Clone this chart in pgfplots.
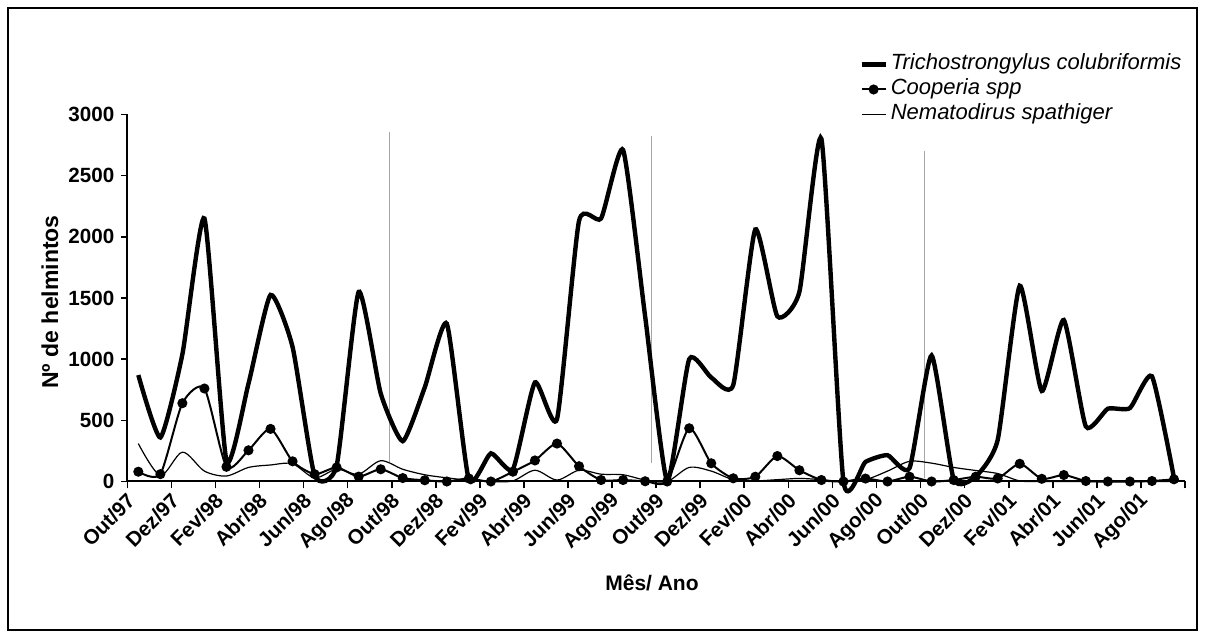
\documentclass[border=0pt]{standalone}
\usepackage{pgfplots}
\pgfplotsset{compat=1.18}
\usepackage{fontspec}
\setmainfont{Liberation Sans}
\pgfplotstableread{
i v
0 870
1 360
2 1040
3 2150
4 170
5 800
6 1525
7 1100
8 50
9 130
10 1550
11 720
12 330
13 770
14 1290
15 15
16 230
17 100
18 810
19 510
20 2130
21 2150
22 2710
23 1350
24 5
25 1000
26 850
27 790
28 2060
29 1350
30 1550
31 2800
32 0
33 160
34 215
35 110
36 1030
37 20
38 40
39 340
40 1600
41 740
42 1320
43 450
44 595
45 600
46 860
47 30
}\trich
\pgfplotstableread{
i v
0 80
1 60
2 640
3 760
4 120
5 255
6 430
7 165
8 60
9 115
10 40
11 100
12 28
13 10
14 0
15 25
16 0
17 80
18 172
19 310
20 125
21 12
22 12
23 2
24 0
25 435
26 149
27 26
28 39
29 208
30 92
31 12
32 0
33 24
34 0
35 39
36 0
37 12
38 39
39 25
40 145
41 22
42 53
43 4
44 0
45 0
46 4
47 18
}\coop
\pgfplotstableread{
i v
0 310
1 50
2 240
3 85
4 45
5 115
6 135
7 145
8 30
9 100
10 60
11 170
12 100
13 55
14 30
15 10
16 0
17 5
18 92
19 12
20 92
21 60
22 55
23 12
24 0
25 115
26 85
27 15
28 5
29 15
30 25
31 15
32 0
33 15
34 85
35 165
36 150
37 115
38 90
39 65
40 5
41 0
42 0
43 0
44 0
45 0
46 0
47 0
}\nema
\begin{document}
\begin{tikzpicture}
\path[use as bounding box] (0pt,0pt) rectangle (602.5pt,318.5pt);
\draw[line width=1pt] (4pt,3.5pt) rectangle (598.5pt,314.5pt);
\begin{axis}[
  at={(63.65pt,77.75pt)}, anchor=south west,
  scale only axis, width=528.85pt, height=183.5pt,
  xmin=-0.5, xmax=47.5, ymin=0, ymax=3000,
  axis x line=bottom, axis y line=left,
  axis line style={-, line width=1pt},
  xtick={0,2,...,46},
  xticklabels={Out/97,Dez/97,Fev/98,Abr/98,Jun/98,Ago/98,Out/98,Dez/98,Fev/99,Abr/99,Jun/99,Ago/99,Out/99,Dez/99,Fev/00,Abr/00,Jun/00,Ago/00,Out/00,Dez/00,Fev/01,Abr/01,Jun/01,Ago/01},
  major x tick style={draw=none},
  minor xtick={-0.5,1.5,...,47.5},
  minor x tick style={black, line width=0.8pt},
  minor tick length=3.5pt,
  ytick={0,500,...,3000},
  major tick length=3pt,
  tick align=outside,
  ytick style={black, line width=0.8pt},
  xticklabel style={rotate=45, anchor=east, xshift=-2.5pt, yshift=-1pt, font=\bfseries\fontsize{10.3}{11}\selectfont},
  yticklabel style={font=\bfseries\fontsize{10.3}{11}\selectfont},
  /pgf/number format/assume math mode=true,
  /pgf/number format/1000 sep={},
  clip=false,
  legend style={at={(0.6918,1.166)}, anchor=north west, draw=none, fill=none,
    font=\itshape\fontsize{11}{12}\selectfont, inner sep=0pt, row sep=2pt,
    nodes={inner xsep=1.5pt, inner ysep=0pt, text height=8pt, text depth=2.5pt}},
  legend cell align=left,
  legend image code/.code={\draw[mark repeat=2,mark phase=2,#1] plot coordinates {(0pt,0pt) (6pt,0pt) (12pt,0pt)};},
]
\addplot[gray!70, line width=0.5pt, forget plot] coordinates {(11.42,2860) (11.42,162)};
\addplot[gray!70, line width=0.5pt, forget plot] coordinates {(23.27,2825) (23.27,151)};
\addplot[gray!70, line width=0.5pt, forget plot] coordinates {(35.68,2705) (35.68,29)};
\addplot[black, line width=2.2pt, smooth, tension=0.33] table[x=i,y=v] {\trich};
\addplot[black, line width=1pt, smooth, tension=0.4, mark=*, mark size=2pt, mark options={solid}] table[x=i,y=v] {\coop};
\addplot[black, line width=0.6pt, smooth, tension=0.5] table[x=i,y=v] {\nema};
\legend{Trichostrongylus colubriformis, Cooperia spp, Nematodirus spathiger}
\end{axis}
\node[rotate=90, font=\bfseries\fontsize{11.5}{12}\selectfont] at (25pt,167.5pt) {Nº de helmintos};
\node[font=\bfseries\fontsize{10.5}{12}\selectfont] at (326pt,27pt) {Mês/ Ano};
\end{tikzpicture}
\end{document}
